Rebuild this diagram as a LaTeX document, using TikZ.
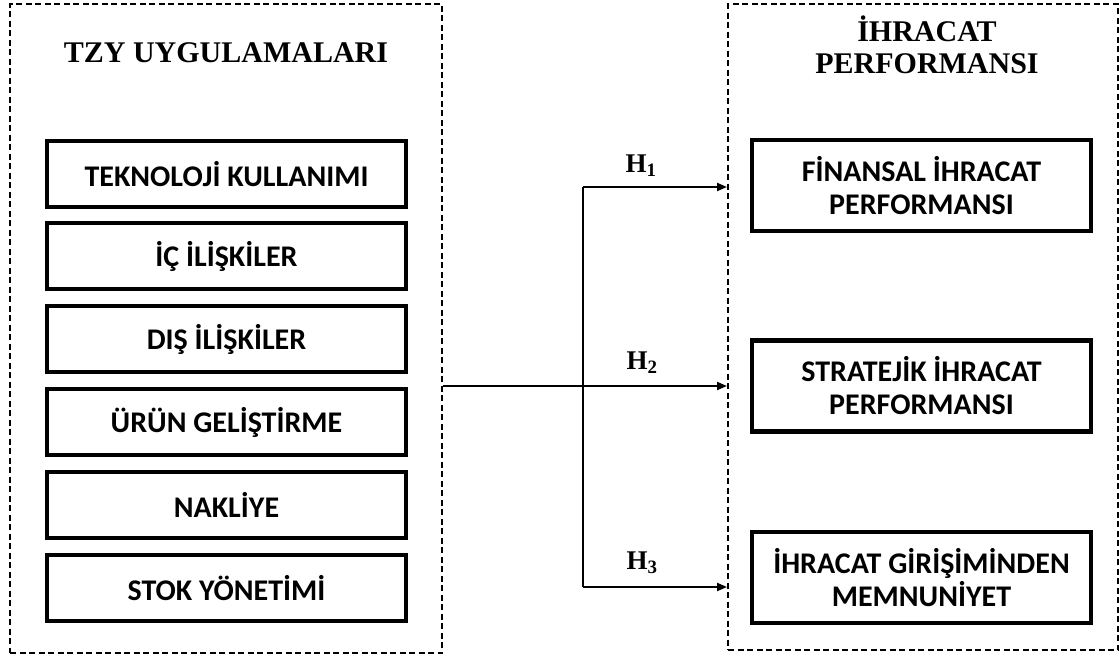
\documentclass[tikz,border=0pt]{standalone}
\usepackage{fontspec}
\setmainfont{Liberation Serif}
\newfontfamily\boxfont{Carlito}
\usetikzlibrary{arrows.meta}
\begin{document}
\begin{tikzpicture}[x=1pt,y=-1pt,
  group/.style={draw,line width=2pt,dash pattern=on 6pt off 3.5pt,inner sep=0pt,anchor=north west},
  item/.style={draw,line width=4.4pt,minimum width=359pt,minimum height=66pt,align=center,
    font=\boxfont\bfseries\fontsize{30}{33}\selectfont},
  ritem/.style={item,minimum width=339pt,minimum height=91pt},
  heading/.style={font=\bfseries\fontsize{30}{34}\selectfont,align=center},
  hyp/.style={font=\bfseries\fontsize{27}{30}\selectfont},
  link/.style={line width=2pt},
  arr/.style={link,-{Triangle[length=10pt,width=8pt]}}]
\useasboundingbox (0,0) rectangle (1119,659);

% dashed group frames
\node[group,minimum width=432pt,minimum height=649pt] (lgrp) at (9,3) {};
\node[group,minimum width=390pt,minimum height=646pt] (rgrp) at (727,3) {};

% headings
\node[heading] (lhead) at (226,53) {TZY UYGULAMALARI};
\node[heading] (rhead) at (927,45) {İHRACAT\\[-2pt]PERFORMANSI};

% practice boxes
\node[item] (b1) at (226.5,174) {TEKNOLOJİ KULLANIMI};
\node[item] (b2) at (226.5,256) {İÇ İLİŞKİLER};
\node[item] (b3) at (226.5,339) {DIŞ İLİŞKİLER};
\node[item] (b4) at (226.5,422) {ÜRÜN GELİŞTİRME};
\node[item] (b5) at (226.5,505) {NAKLİYE};
\node[item] (b6) at (226.5,588) {STOK YÖNETİMİ};

% performance boxes
\node[ritem] (r1) at (921.5,185.5) {FİNANSAL İHRACAT\\PERFORMANSI};
\node[ritem] (r2) at (921.5,386) {STRATEJİK İHRACAT\\PERFORMANSI};
\node[ritem] (r3) at (921.5,577.5) {İHRACAT GİRİŞİMİNDEN\\MEMNUNİYET};

% connectors
\coordinate (j) at (583,386);
\coordinate (jt) at (583,187);
\coordinate (jb) at (583,587);
\draw[link,line width=2.4pt] (lgrp.east |- j) -- (j);
\draw[link] (jt) -- (jb);
\draw[arr] (jt) -- (rgrp.west |- jt);
\draw[arr] (j) -- (rgrp.west |- j);
\draw[arr] (jb) -- (rgrp.west |- jb);

% hypothesis labels
\node[hyp] (h1) at (641,166) {H\textsubscript{1}};
\node[hyp] (h2) at (642,363) {H\textsubscript{2}};
\node[hyp] (h3) at (642,563) {H\textsubscript{3}};
\end{tikzpicture}
\end{document}
